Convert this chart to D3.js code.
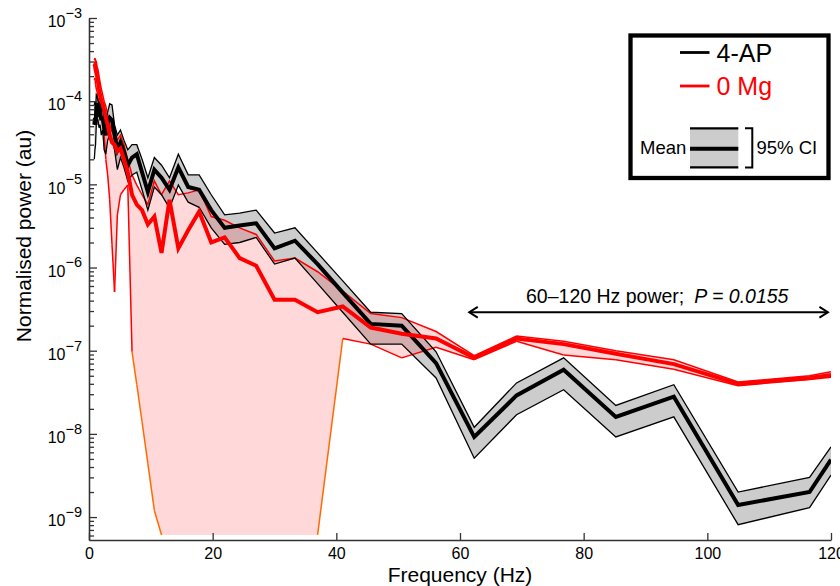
<!DOCTYPE html>
<html>
<head>
<meta charset="utf-8">
<script src="https://cdn.jsdelivr.net/npm/d3@7/dist/d3.min.js"></script>
<style>
  body { margin: 0; background: #fff; }
  svg { display: block; font-family: "Liberation Sans", Arial, Helvetica, sans-serif; }
</style>
</head>
<body>
<div id="chart"></div>
<script>
// frequency bins (Hz), log-spaced, last bin clipped at 120 Hz
const freqHz = [0.86, 0.96, 1.06, 1.18, 1.31, 1.46, 1.62, 1.79, 1.99, 2.21, 2.45,
    2.72, 3.02, 3.35, 3.72, 4.13, 4.59, 5.09, 5.65, 6.27, 6.96,
    7.73, 8.58, 9.52, 10.57, 11.73, 13.02, 14.45, 16.04, 17.81, 19.77,
    21.94, 24.36, 27.04, 30.01, 33.31, 36.97, 41.04, 45.56, 50.57, 56.13,
    62.3, 69.15, 76.76, 85.2, 94.58, 104.98, 116.53, 120];

// 4-AP: mean and 95% CI
const ap4Upper = [9.0e-5, 1.0e-4, 7.8e-5, 1.2e-4, 1.15e-4, 1.0e-4, 9.3e-5, 1.0e-4, 7.4e-5, 8.3e-5, 6.3e-5,
    5.9e-5, 7.4e-5, 9.3e-5, 9.0e-5, 5.2e-5, 3.9e-5, 4.5e-5, 3.4e-5, 2.6e-5, 3.0e-5,
    3.0e-5, 2.0e-5, 1.2e-5, 2.1e-5, 1.7e-5, 1.2e-5, 2.3e-5, 1.3e-5, 1.3e-5, 7.5e-6,
    4.3e-6, 4.5e-6, 4.9e-6, 2.6e-6, 3.0e-6, 1.5e-6, 6.9e-7, 2.9e-7, 2.8e-7, 9.7e-8,
    1.2e-8, 4.1e-8, 8.2e-8, 2.2e-8, 3.9e-8, 2.0e-9, 3.0e-9, 7.0e-9];
const ap4Mean = [5.2e-5, 6.3e-5, 5.2e-5, 8.3e-5, 9.5e-5, 8.7e-5, 7.4e-5, 7.8e-5, 5.9e-5, 6.6e-5, 4.8e-5,
    3.9e-5, 5.5e-5, 6.3e-5, 5.9e-5, 3.9e-5, 2.6e-5, 3.2e-5, 2.5e-5, 1.7e-5, 2.1e-5,
    2.3e-5, 1.4e-5, 8.1e-6, 1.5e-5, 1.2e-5, 8.6e-6, 1.6e-5, 9.3e-6, 8.6e-6, 4.9e-6,
    3.0e-6, 3.2e-6, 3.4e-6, 1.7e-6, 2.1e-6, 1.1e-6, 5.0e-7, 2.1e-7, 2.0e-7, 7.1e-8,
    9.2e-9, 2.9e-8, 5.9e-8, 1.6e-8, 2.8e-8, 1.4e-9, 2.0e-9, 4.9e-9];
const ap4Lower = [2.0e-5, 2.6e-5, 3.0e-5, 5.2e-5, 6.3e-5, 5.9e-5, 4.8e-5, 5.2e-5, 3.9e-5, 4.5e-5, 2.6e-5,
    2.3e-5, 3.4e-5, 3.9e-5, 3.4e-5, 2.6e-5, 1.5e-5, 2.1e-5, 1.6e-5, 1.1e-5, 1.3e-5,
    1.4e-5, 8.6e-6, 4.9e-6, 9.3e-6, 7.5e-6, 5.2e-6, 9.8e-6, 6.1e-6, 5.3e-6, 3.0e-6,
    1.9e-6, 2.0e-6, 2.3e-6, 1.1e-6, 1.3e-6, 6.4e-7, 2.9e-7, 1.2e-7, 1.2e-7, 4.7e-8,
    5.1e-9, 1.7e-8, 3.4e-8, 9.2e-9, 1.6e-8, 8.1e-10, 1.3e-9, 3.2e-9];

// 0 Mg: mean and 95% CI (lower bound runs off the axis between ~11 and 37 Hz)
const mg0Upper = [3.1e-4, 3.3e-4, 3.0e-4, 3.0e-4, 2.6e-4, 2.4e-4, 2.0e-4, 1.7e-4, 1.4e-4, 1.2e-4, 1.0e-4,
    8.7e-5, 6.8e-5, 5.2e-5, 4.3e-5, 4.5e-5, 3.4e-5, 3.9e-5, 3.0e-5, 2.0e-5, 1.3e-5,
    9.8e-6, 7.5e-6, 5.7e-6, 1.1e-5, 7.5e-6, 1.1e-5, 7.5e-6, 7.9e-6, 8.6e-6, 4.1e-6,
    3.7e-6, 3.0e-6, 2.5e-6, 1.2e-6, 1.3e-6, 8.9e-7, 5.2e-7, 2.8e-7, 2.5e-7, 1.7e-7,
    8.7e-8, 1.5e-7, 1.3e-7, 1.0e-7, 7.8e-8, 4.2e-8, 5.0e-8, 5.6e-8];
const mg0Mean = [2.6e-4, 2.7e-4, 2.4e-4, 2.2e-4, 2.0e-4, 1.7e-4, 1.4e-4, 1.2e-4, 1.0e-4, 9.3e-5, 7.8e-5,
    6.3e-5, 5.2e-5, 3.9e-5, 3.2e-5, 3.0e-5, 2.5e-5, 2.7e-5, 2.0e-5, 1.4e-5, 7.5e-6,
    5.7e-6, 4.9e-6, 3.3e-6, 4.1e-6, 1.5e-6, 6.5e-6, 1.7e-6, 2.8e-6, 4.7e-6, 2.0e-6,
    2.3e-6, 1.3e-6, 1.05e-6, 4.1e-7, 4.1e-7, 2.9e-7, 3.4e-7, 1.9e-7, 1.6e-7, 1.4e-7,
    8.2e-8, 1.4e-7, 1.2e-7, 9.2e-8, 6.9e-8, 4.0e-8, 4.7e-8, 5.1e-8];
const mg0Lower = [1.8e-4, 1.9e-4, 1.6e-4, 1.4e-4, 1.3e-4, 1.1e-4, 9.3e-5, 7.8e-5, 6.3e-5, 5.2e-5, 3.9e-5,
    2.0e-5, 1.3e-5, 6.5e-6, 1.9e-6, 5.1e-7, 4.3e-6, 7.5e-6, 8.6e-6, 9.8e-6, 9.7e-8,
    3.9e-8, 1.4e-8, 4.4e-9, 1.2e-9, 6.1e-10, 6.1e-10, 6.1e-10, 6.1e-10, 6.1e-10, 6.1e-10,
    6.1e-10, 6.1e-10, 6.1e-10, 6.1e-10, 6.1e-10, 6.1e-10, 1.4e-7, 1.2e-7, 8.2e-8, 1.1e-7,
    7.8e-8, 1.3e-7, 8.9e-8, 7.8e-8, 6.0e-8, 3.8e-8, 4.5e-8, 4.8e-8];

const xTicks = [0, 20, 40, 60, 80, 100, 120];
const yDecades = [-9, -8, -7, -6, -5, -4, -3];
const seriesNames = ["4-AP", "0 Mg"];
const bandHz = [61.5, 119.5];
const bandLevel = 2.9e-7;
const pValue = "0.0155";

(() => {
    let w = 840;
    let h = 586;
    let left = 89, right = 831, top = 18, bottom = 540;

    let svg = d3.select("#chart")
        .append("svg")
        .attr("width", w)
        .attr("height", h);

    let x = d3.scaleLinear().domain([0, 120]).range([left, right]);
    let y = d3.scaleLog().domain([5.3e-10, 1e-3]).range([bottom, top]);

    svg.append("defs").append("clipPath")
        .attr("id", "plotClip")
        .append("rect")
        .attr("x", left).attr("y", top)
        .attr("width", right - left).attr("height", bottom - top);

    let rows = freqHz.map((f, i) => ({
        f: f,
        apHi: ap4Upper[i], apMean: ap4Mean[i], apLo: ap4Lower[i],
        mgHi: mg0Upper[i], mgMean: mg0Mean[i], mgLo: mg0Lower[i]
    }));

    let plot = svg.append("g").attr("clip-path", "url(#plotClip)");

    let band = (lo, hi) => d3.area()
        .x(d => x(d.f))
        .y0(d => y(d[lo]))
        .y1(d => y(d[hi]));
    let line = (key) => d3.line()
        .x(d => x(d.f))
        .y(d => y(d[key]));

    // 95% CI bands
    plot.append("path")
        .datum(rows)
        .attr("d", band("apLo", "apHi"))
        .attr("fill", "#cccccc");

    plot.append("path")
        .datum(rows)
        .attr("d", band("mgLo", "mgHi"))
        .attr("fill", "#ff0000")
        .attr("fill-opacity", 0.15);

    // 0 Mg CI edges; the lower edge where it falls off scale is drawn orange
    plot.append("path")
        .datum(rows)
        .attr("d", line("mgHi"))
        .attr("fill", "none")
        .attr("stroke", "#ff0000")
        .attr("stroke-width", 1.5);

    let offScale = 1e-9;
    let loSegs = d3.pairs(rows).filter(([a, b]) => !(a.mgLo < offScale && b.mgLo < offScale));
    plot.selectAll(".mgLo")
        .data(loSegs)
        .join("line")
        .attr("class", "mgLo")
        .attr("x1", d => x(d[0].f)).attr("y1", d => y(d[0].mgLo))
        .attr("x2", d => x(d[1].f)).attr("y2", d => y(d[1].mgLo))
        .attr("stroke", d => (Math.min(d[0].mgLo, d[1].mgLo) < 5e-8 && d[1].f < 60) ? "#ff6a00" : "#ff0000")
        .attr("stroke-width", 1.5);

    // 4-AP CI edges
    ["apHi", "apLo"].forEach(k => {
        plot.append("path")
            .datum(rows)
            .attr("d", line(k))
            .attr("fill", "none")
            .attr("stroke", "#000")
            .attr("stroke-width", 1.3);
    });

    // means
    plot.append("path")
        .datum(rows)
        .attr("d", line("apMean"))
        .attr("fill", "none")
        .attr("stroke", "#000")
        .attr("stroke-width", 4);

    plot.append("path")
        .datum(rows)
        .attr("d", line("mgMean"))
        .attr("fill", "none")
        .attr("stroke", "#ff0000")
        .attr("stroke-width", 4);

    // axes
    let axisColor = "#333";

    let xAxis = d3.axisBottom(x)
        .tickValues(xTicks)
        .tickSize(-7)
        .tickSizeOuter(0)
        .tickPadding(8);

    let gx = svg.append("g")
        .attr("transform", "translate(0," + bottom + ")")
        .call(xAxis);
    gx.selectAll("text").attr("font-size", 16).attr("fill", "#000").attr("font-family", null);

    let majors = yDecades.map(p => Math.pow(10, p));
    let minors = [];
    for (let p = -10; p < -3; p++) {
        for (let m = 2; m < 10; m++) {
            let v = m * Math.pow(10, p);
            if (v >= y.domain()[0] && v <= 1e-3) minors.push(v);
        }
    }

    svg.append("g")
        .attr("transform", "translate(" + left + ",0)")
        .call(d3.axisLeft(y).tickValues(minors).tickSize(-5).tickSizeOuter(0).tickFormat(""));

    let gy = svg.append("g")
        .attr("transform", "translate(" + left + ",0)")
        .call(d3.axisLeft(y).tickValues(majors).tickSize(-8).tickSizeOuter(0).tickPadding(7));

    gy.selectAll("text")
        .attr("font-family", null)
        .attr("fill", "#000")
        .attr("dy", "0.55em")
        .attr("font-size", 16)
        .each(function(d) {
            let t = d3.select(this);
            let p = Math.round(Math.log10(d));
            t.text(null);
            t.append("tspan").text("10");
            t.append("tspan")
                .attr("font-size", 14.5)
                .attr("dy", "-0.65em")
                .text("\u2212" + Math.abs(p));
        });

    svg.selectAll(".domain, .tick line")
        .attr("stroke", axisColor)
        .attr("stroke-width", 1.3);

    svg.append("text")
        .attr("x", (left + right) / 2)
        .attr("y", 582)
        .attr("text-anchor", "middle")
        .attr("font-size", 21)
        .text("Frequency (Hz)");

    svg.append("text")
        .attr("transform", "translate(31," + 236 + ") rotate(-90)")
        .attr("text-anchor", "middle")
        .attr("font-size", 21)
        .text("Normalised power (au)");

    // 60-120 Hz annotation
    let ay = y(bandLevel);
    let ax0 = x(bandHz[0]), ax1 = x(bandHz[1]);
    let arrow = svg.append("g").attr("stroke", "#000").attr("stroke-width", 2).attr("fill", "none");
    arrow.append("line").attr("x1", ax0).attr("x2", ax1).attr("y1", ay).attr("y2", ay);
    arrow.append("path").attr("d", "M" + (ax0 + 8.5) + "," + (ay - 5.3) + "L" + ax0 + "," + ay + "L" + (ax0 + 8.5) + "," + (ay + 5.3));
    arrow.append("path").attr("d", "M" + (ax1 - 8.5) + "," + (ay - 5.3) + "L" + ax1 + "," + ay + "L" + (ax1 - 8.5) + "," + (ay + 5.3));

    let note = svg.append("text")
        .attr("x", 526)
        .attr("y", ay - 9)
        .attr("font-size", 19.5);
    note.append("tspan").text("60\u2013120 Hz power;");
    note.append("tspan").attr("dx", 10).attr("font-style", "italic").text("P = " + pValue);

    // legend
    let lg = svg.append("g");
    lg.append("rect")
        .attr("x", 630.5).attr("y", 35.5)
        .attr("width", 198).attr("height", 142.5)
        .attr("fill", "#fff")
        .attr("stroke", "#000")
        .attr("stroke-width", 4.3);

    let legendColors = ["#000", "#ff0000"];
    seriesNames.forEach((name, i) => {
        let ly = 52.5 + i * 33.5;
        lg.append("line")
            .attr("x1", 680).attr("x2", 709.5)
            .attr("y1", ly).attr("y2", ly)
            .attr("stroke", legendColors[i])
            .attr("stroke-width", 2.8);
        lg.append("text")
            .attr("x", 716.5).attr("y", ly + 9.3)
            .attr("font-size", 25)
            .attr("fill", legendColors[i])
            .text(name);
    });

    lg.append("rect")
        .attr("x", 690).attr("y", 128.3)
        .attr("width", 48.3).attr("height", 39)
        .attr("fill", "#cccccc");
    [128.3, 167.3].forEach(v => {
        lg.append("line").attr("x1", 690).attr("x2", 738.3).attr("y1", v).attr("y2", v)
            .attr("stroke", "#000").attr("stroke-width", 2.2);
    });
    lg.append("line").attr("x1", 690).attr("x2", 738.3).attr("y1", 148.7).attr("y2", 148.7)
        .attr("stroke", "#000").attr("stroke-width", 4);
    lg.append("path")
        .attr("d", "M745,128.3H752.3V167.5H745")
        .attr("fill", "none").attr("stroke", "#000").attr("stroke-width", 2);
    lg.append("text").attr("x", 640).attr("y", 153.5).attr("font-size", 18.5).text("Mean");
    lg.append("text").attr("x", 756.5).attr("y", 153.5).attr("font-size", 18.5).text("95% CI");
})();
</script>
</body>
</html>
